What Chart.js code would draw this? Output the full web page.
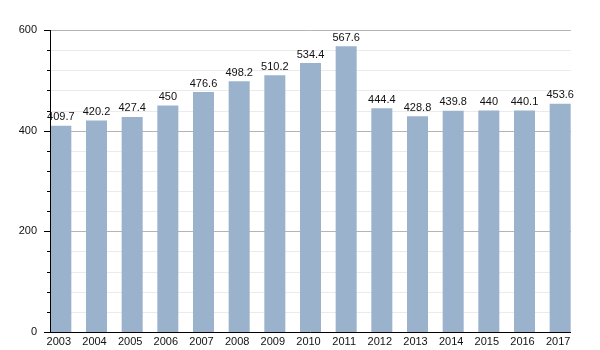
<!DOCTYPE html>
<html><head><meta charset="utf-8">
<script src="https://cdn.jsdelivr.net/npm/chart.js@4/dist/chart.umd.min.js"></script>
<style>html,body{margin:0;padding:0;background:#fff}#w{width:600px;height:350px}</style>
</head><body><div id="w"><canvas id="c" width="600" height="350"></canvas></div>
<script>
const years = ["2003","2004","2005","2006","2007","2008","2009","2010","2011","2012","2013","2014","2015","2016","2017"];
const values = [409.7,420.2,427.4,450,476.6,498.2,510.2,534.4,567.6,444.4,428.8,439.8,440,440.1,453.6];
const yMajorTicks = [0,200,400,600];
const yMinorStep = 40;

function axisBounds(chart) {
  const meta = chart.getDatasetMeta(0);
  const first = meta.data[0], last = meta.data[meta.data.length - 1];
  return { left: Math.round(first.x - first.width / 2), right: Math.round(last.x + last.width / 2) };
}

const labelPlugin = {
  id: 'labels',
  beforeDatasetsDraw(chart) {
    const ctx = chart.ctx;
    const ys = chart.scales.y;
    const b = axisBounds(chart);
    ctx.save();
    ctx.lineWidth = 1;
    for (let v = 0; v <= 600; v += yMinorStep) {
      const py = Math.round(ys.getPixelForValue(v)) + 0.5;
      ctx.strokeStyle = yMajorTicks.includes(v) ? '#b4b4b4' : '#ebebeb';
      ctx.beginPath();
      ctx.moveTo(b.left, py);
      ctx.lineTo(b.right, py);
      ctx.stroke();
    }
    ctx.restore();
  },
  afterDatasetsDraw(chart) {
    const ctx = chart.ctx;
    const meta = chart.getDatasetMeta(0);
    ctx.save();
    ctx.fillStyle = '#111';
    ctx.font = '11px "Liberation Sans", Arial, sans-serif';
    ctx.textAlign = 'center';
    ctx.textBaseline = 'bottom';
    meta.data.forEach((bar, i) => {
      ctx.fillText(String(values[i]), bar.x, bar.y - 3);
    });
    ctx.restore();
  },
  afterDraw(chart) {
    const ctx = chart.ctx;
    const ys = chart.scales.y;
    const b = axisBounds(chart);
    const bottom = Math.round(ys.getPixelForValue(0)) + 0.5;
    const top = Math.round(ys.getPixelForValue(600));
    ctx.save();
    ctx.strokeStyle = '#000';
    ctx.lineWidth = 1;
    for (let v = 0; v <= 600; v += yMinorStep) {
      const py = Math.round(ys.getPixelForValue(v)) + 0.5;
      const len = yMajorTicks.includes(v) ? 6 : 3;
      ctx.beginPath();
      ctx.moveTo(b.left - len, py);
      ctx.lineTo(b.left, py);
      ctx.stroke();
    }
    ctx.beginPath();
    ctx.moveTo(b.left + 0.5, top);
    ctx.lineTo(b.left + 0.5, bottom);
    ctx.moveTo(b.left, bottom);
    ctx.lineTo(b.right, bottom);
    ctx.stroke();
    ctx.restore();
  }
};

new Chart(document.getElementById('c'), {
  type: 'bar',
  data: {
    labels: years,
    datasets: [{
      data: values,
      backgroundColor: '#9ab2cc',
      borderWidth: 0,
      categoryPercentage: 0.589,
      barPercentage: 1.0
    }]
  },
  options: {
    responsive: false,
    animation: false,
    layout: { padding: { top: 30, right: 22, left: 0, bottom: 0 } },
    plugins: { legend: { display: false }, tooltip: { enabled: false } },
    scales: {
      x: {
        grid: { display: false, drawTicks: false },
        border: { display: false },
        ticks: { color: '#111', font: { size: 11, family: '"Liberation Sans", Arial, sans-serif' }, padding: 3, labelOffset: -2, maxRotation: 0, autoSkip: false },
        afterFit(s) { s.height = 18; }
      },
      y: {
        min: 0, max: 600,
        grid: { display: false, drawTicks: false },
        border: { display: false },
        ticks: {
          stepSize: 200,
          color: '#111',
          padding: 6,
          font: { size: 11, family: '"Liberation Sans", Arial, sans-serif' }
        },
        afterFit(s) { s.width = 43; }
      }
    }
  },
  plugins: [labelPlugin]
});
</script>
</body></html>
